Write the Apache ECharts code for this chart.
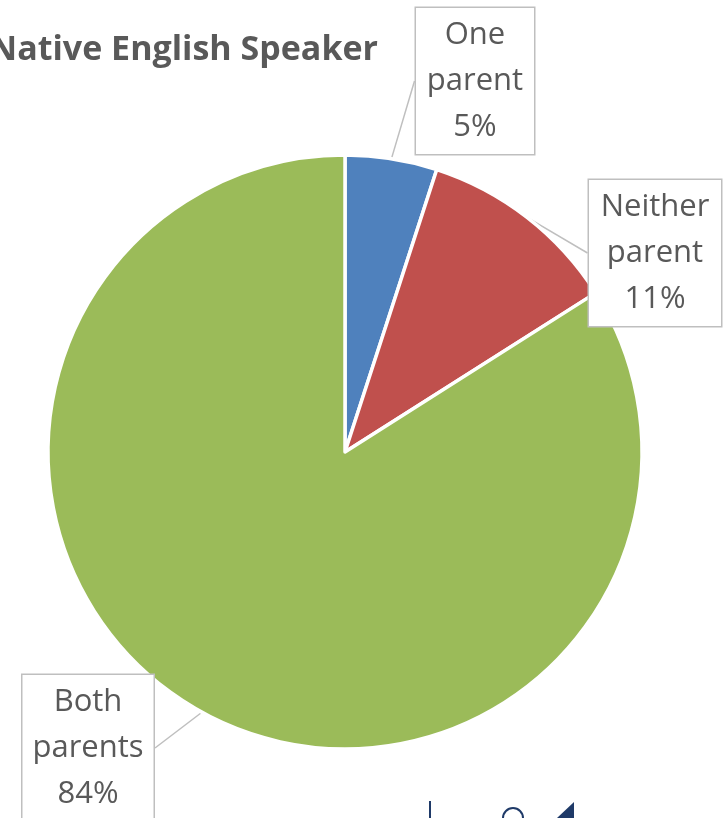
<!DOCTYPE html>
<html>
<head>
<meta charset="utf-8">
<script src="https://cdn.jsdelivr.net/npm/echarts@6/dist/echarts.min.js"></script>
<style>
  html, body { margin: 0; padding: 0; background: #fff; }
  #chart { width: 725px; height: 818px; }
</style>
</head>
<body>
<div id="chart"></div>
<script>
  const chartTitle = 'Native English Speaker'
  const categories = ['One parent', 'Neither parent', 'Both parents']
  const shares = [5, 11, 84]
  const colors = ['#4f81bd', '#c0504d', '#9bbb59']

  // callout boxes: centre and inner text width, same order as categories
  const boxCentres = [[475, 81], [655, 253], [88, 748]]
  const boxWidths = [96, 110, 109]

  const chart = echarts.init(document.getElementById('chart'))
  chart.setOption({
    animation: false,
    color: colors,
    series: [
      {
        type: 'pie',
        center: [345, 452],
        radius: 297,
        startAngle: 90,
        clockwise: true,
        itemStyle: {
          borderColor: '#fff',
          borderWidth: 3.5,
        },
        label: {
          show: true,
          position: 'outside',
          formatter: p => p.name.split(' ').join('\n') + '\n' + p.value + '%',
          fontFamily: 'Open Sans',
          fontSize: 31,
          lineHeight: 46,
          color: '#595959',
          align: 'center',
          overflow: 'none',
          backgroundColor: '#fff',
          borderColor: '#bfbfbf',
          borderWidth: 1.5,
          padding: [4, 11, 4, 11],
        },
        labelLine: {
          show: true,
          length: 0,
          length2: 0,
          lineStyle: { color: '#bfbfbf', width: 1.5 },
        },
        labelLayout: params => {
          const c = boxCentres[params.dataIndex]
          return { x: c[0], y: c[1], align: 'center', verticalAlign: 'middle' }
        },
        data: categories.map((name, i) => ({
          name,
          value: shares[i],
          label: { width: boxWidths[i] },
        })),
      },
    ],
    graphic: [
      {
        // title runs off the left edge in the original
        type: 'text',
        x: 378,
        y: 50,
        style: {
          text: chartTitle,
          align: 'right',
          verticalAlign: 'middle',
          fontFamily: 'Open Sans',
          fontWeight: 'bold',
          fontSize: 34,
          fill: '#595959',
        },
      },
      {
        type: 'line',
        shape: { x1: 430, y1: 801, x2: 430, y2: 818 },
        style: { stroke: '#1f3a68', lineWidth: 2 },
      },
      {
        type: 'arc',
        shape: { cx: 513, cy: 818, r: 10, startAngle: Math.PI, endAngle: Math.PI * 2 },
        style: { stroke: '#1f3a68', lineWidth: 2, fill: null },
      },
      {
        type: 'polygon',
        shape: { points: [[557, 818], [574, 802], [574, 818]] },
        style: { fill: '#1f3a68' },
      },
    ],
  })
</script>
</body>
</html>
